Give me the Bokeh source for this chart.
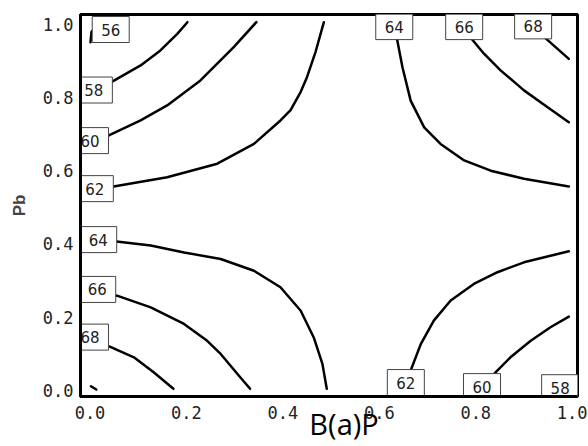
from bokeh.plotting import figure
from bokeh.models import Range1d, FixedTicker, PrintfTickFormatter
from bokeh.embed import file_html
from bokeh.resources import INLINE
from bokeh.core.properties import value

# ---- contour lines (x = B(a)P, y = Pb) ----
c56_x = [0.001, 0.003, 0.010, 0.030, 0.050]
c56_y = [0.950, 0.978, 0.990, 1.000, 1.005]
c58l_x = [0.0, 0.046, 0.105, 0.146, 0.181, 0.202]
c58l_y = [0.815, 0.843, 0.887, 0.928, 0.973, 1.005]
c60l_x = [0.0, 0.039, 0.105, 0.160, 0.229, 0.298, 0.345]
c60l_y = [0.675, 0.696, 0.737, 0.778, 0.846, 0.937, 1.005]
c62l_x = [0.0, 0.049, 0.160, 0.264, 0.340, 0.395, 0.416, 0.437, 0.450, 0.468, 0.485]
c62l_y = [0.545, 0.557, 0.582, 0.619, 0.673, 0.737, 0.765, 0.815, 0.855, 0.925, 1.005]
c64t_x = [0.632, 0.637, 0.648, 0.665, 0.693, 0.727, 0.776, 0.831, 0.900, 0.993]
c64t_y = [1.005, 0.957, 0.882, 0.791, 0.718, 0.673, 0.628, 0.600, 0.578, 0.557]
c66t_x = [0.775, 0.793, 0.817, 0.852, 0.900, 0.949, 0.993]
c66t_y = [1.005, 0.957, 0.919, 0.873, 0.819, 0.773, 0.732]
c68t_x = [0.912, 0.945, 0.993]
c68t_y = [1.005, 0.961, 0.905]
c64b_x = [0.0, 0.055, 0.126, 0.195, 0.271, 0.340, 0.395, 0.437, 0.464, 0.482, 0.491]
c64b_y = [0.410, 0.407, 0.396, 0.377, 0.359, 0.327, 0.282, 0.218, 0.145, 0.073, 0.005]
c66b_x = [0.0, 0.056, 0.126, 0.195, 0.243, 0.271, 0.312, 0.332]
c66b_y = [0.270, 0.259, 0.227, 0.182, 0.136, 0.100, 0.036, 0.005]
c68b_x = [0.0, 0.041, 0.091, 0.132, 0.173]
c68b_y = [0.135, 0.120, 0.091, 0.050, 0.005]
c70_x = [0.002, 0.013]
c70_y = [0.012, 0.003]
c62r_x = [0.655, 0.665, 0.686, 0.713, 0.748, 0.796, 0.845, 0.900, 0.955, 0.993]
c62r_y = [0.0, 0.055, 0.127, 0.191, 0.246, 0.291, 0.323, 0.350, 0.368, 0.380]
c60r_x = [0.820, 0.839, 0.872, 0.914, 0.955, 0.993]
c60r_y = [0.0, 0.047, 0.091, 0.136, 0.173, 0.202]
c58r_x = [0.965, 0.993]
c58r_y = [0.0, 0.030]

# ---- contour level labels ----
lab_text = ["56", "58", "60", "62", "64", "66", "68", "64", "66", "68", "62", "60", "58"]
lab_x = [0.043, 0.008, 0.0, 0.010, 0.017, 0.015, 0.0, 0.631, 0.776, 0.919, 0.655, 0.813, 0.975]
lab_y = [0.985, 0.820, 0.682, 0.551, 0.412, 0.276, 0.146, 0.993, 0.993, 0.995, 0.022, 0.011, 0.008]

ticks = [0.0, 0.2, 0.4, 0.6, 0.8, 1.0]

p = figure(width=588, height=446, output_backend="svg", toolbar_location=None,
           x_range=Range1d(-0.0197, 1.011), y_range=Range1d(-0.016, 1.026),
           min_border_left=80, min_border_right=11, min_border_top=14, min_border_bottom=50)
p.grid.visible = False
p.background_fill_color = "white"
p.border_fill_color = "white"
p.outline_line_color = "black"
p.outline_line_width = 3

xs = [c56_x, c58l_x, c60l_x, c62l_x, c64t_x, c66t_x, c68t_x, c64b_x, c66b_x, c68b_x,
      c70_x, c62r_x, c60r_x, c58r_x]
ys = [c56_y, c58l_y, c60l_y, c62l_y, c64t_y, c66t_y, c68t_y, c64b_y, c66b_y, c68b_y,
      c70_y, c62r_y, c60r_y, c58r_y]
p.multi_line(xs, ys, line_color="black", line_width=2.5, line_join="round", line_cap="round")

p.rect(lab_x, lab_y, width=37, height=26, width_units="screen", height_units="screen",
       fill_color="white", line_color="#444444", line_width=1)
p.text(lab_x, lab_y, text=lab_text, text_align="center", text_baseline="middle",
       text_font=value("DejaVu Sans"), text_font_size="15px", text_color="#222222")

for ax in (p.xaxis[0], p.yaxis[0]):
    ax.ticker = FixedTicker(ticks=ticks)
    ax.formatter = PrintfTickFormatter(format="%.1f")
    ax.major_tick_line_color = None
    ax.minor_tick_line_color = None
    ax.major_tick_out = 0
    ax.major_tick_in = 0
    ax.axis_line_color = "black"
    ax.axis_line_width = 3
    ax.major_label_text_font = "DejaVu Sans Mono"
    ax.major_label_text_font_size = "17px"
    ax.major_label_text_color = "#222222"

p.xaxis.major_label_standoff = 9
p.yaxis.major_label_standoff = 7
p.yaxis.axis_label = "Pb"
p.yaxis.axis_label_text_font = "Liberation Sans"
p.yaxis.axis_label_text_font_style = "bold"
p.yaxis.axis_label_text_font_size = "17px"
p.yaxis.axis_label_standoff = 11

p.xaxis.axis_label = "\u00a0\u00a0\u00a0\u00a0B(a)P"
p.xaxis.axis_label_text_font = "Open Sans"
p.xaxis.axis_label_text_font_style = "normal"
p.xaxis.axis_label_text_font_size = "29px"
p.xaxis.axis_label_text_color = "black"
p.xaxis.axis_label_standoff = -18

open("out.html", "w").write(file_html(p, INLINE))
